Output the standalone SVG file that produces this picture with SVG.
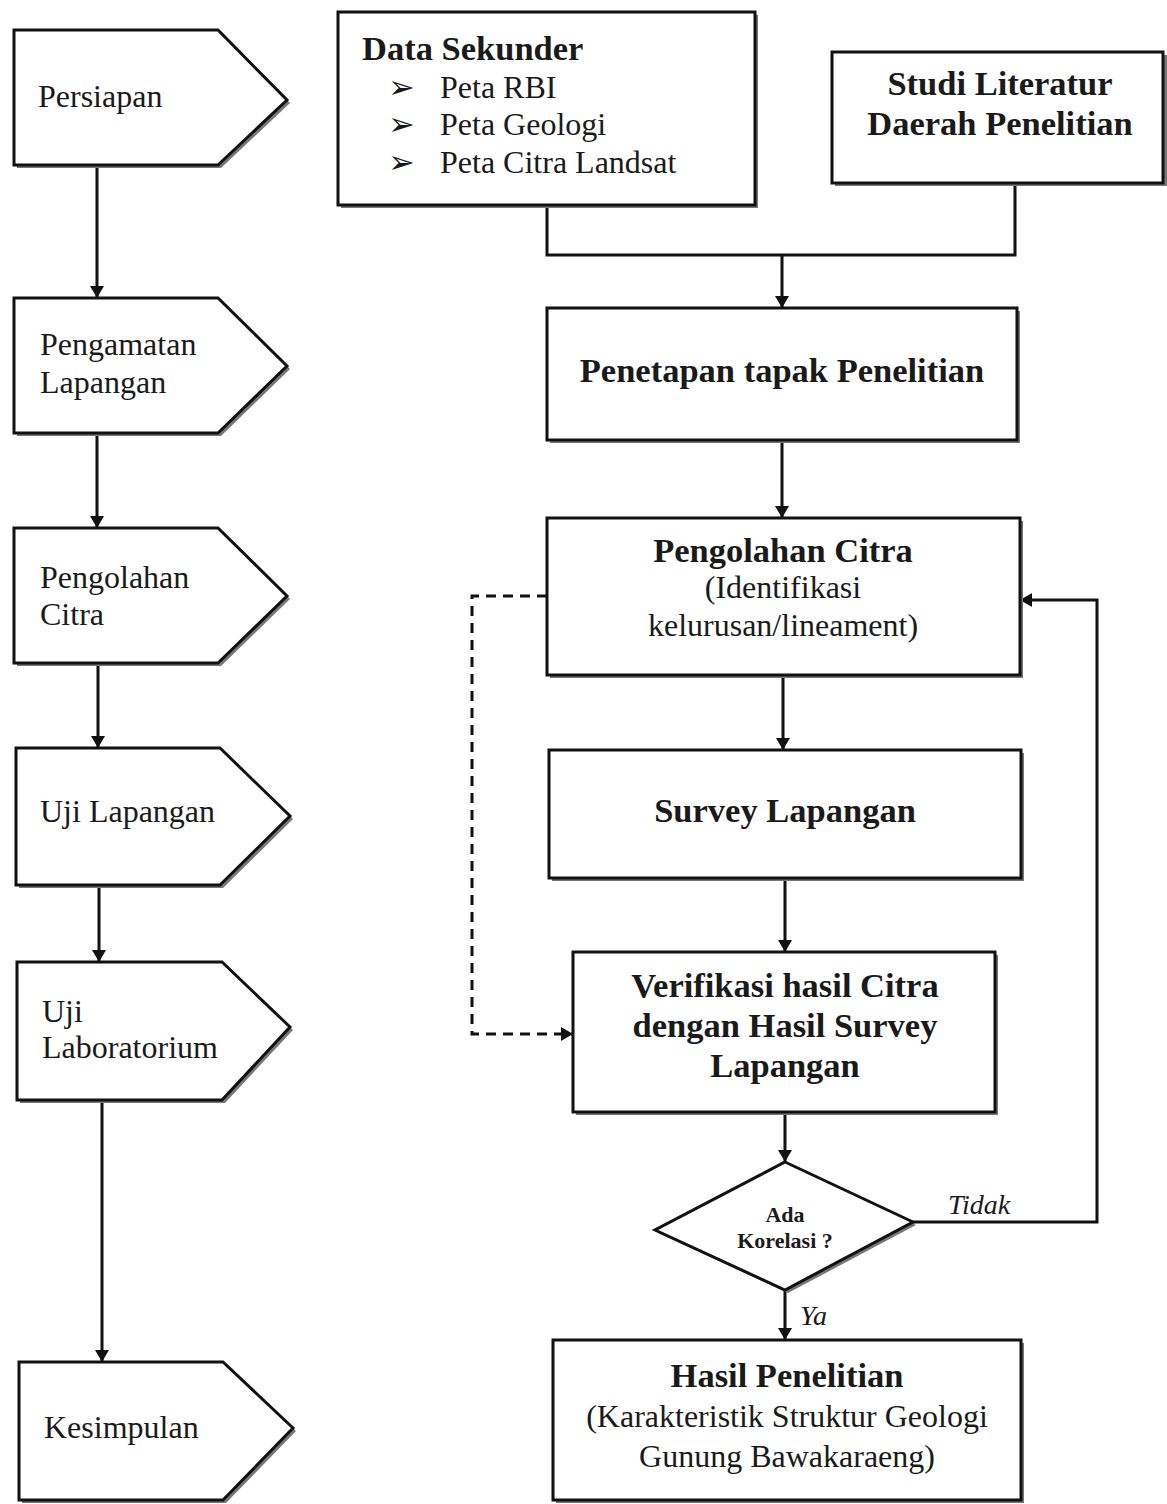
<svg xmlns="http://www.w3.org/2000/svg" width="1167" height="1504" viewBox="0 0 1167 1504">
<style>
.box{fill:#fff;stroke:#111;stroke-width:3}
.sh{fill:#777;stroke:none}
.t{font-family:"Liberation Serif","Times New Roman",serif;font-size:32px;fill:#1a1a1a}
.b{font-family:"Liberation Serif","Times New Roman",serif;font-size:34.5px;font-weight:bold;fill:#1a1a1a}
.m{text-anchor:middle}
.i{font-family:"Liberation Serif","Times New Roman",serif;font-size:28px;font-style:italic;fill:#1a1a1a}
.s{font-family:"Liberation Serif","Times New Roman",serif;font-size:22px;font-weight:bold;fill:#1a1a1a;text-anchor:middle}
.c{fill:none;stroke:#111;stroke-width:3}
.d{fill:none;stroke:#111;stroke-width:3;stroke-dasharray:10 7}
</style>
<defs>
<marker id="ah" viewBox="0 0 12 14" refX="12" refY="7" markerWidth="12" markerHeight="14" markerUnits="userSpaceOnUse" orient="auto">
<path d="M0,0 L12,7 L0,14 Z" fill="#111"/>
</marker>
</defs>
<rect width="1167" height="1504" fill="#fff"/>

<g id="connectors">
<path class="c" d="M97,165 V298" marker-end="url(#ah)"/>
<path class="c" d="M97,433 V528" marker-end="url(#ah)"/>
<path class="c" d="M98,663 V748" marker-end="url(#ah)"/>
<path class="c" d="M99,885 V962" marker-end="url(#ah)"/>
<path class="c" d="M102,1100 V1362" marker-end="url(#ah)"/>
<path class="c" d="M547,205 V255 H1015 V183"/>
<path class="c" d="M782,255 V308" marker-end="url(#ah)"/>
<path class="c" d="M782,440 V518" marker-end="url(#ah)"/>
<path class="c" d="M783,675 V750" marker-end="url(#ah)"/>
<path class="c" d="M785,878 V952" marker-end="url(#ah)"/>
<path class="c" d="M785,1112 V1162" marker-end="url(#ah)"/>
<path class="d" d="M547,596 H472 V1034 H573" marker-end="url(#ah)"/>
<path class="c" d="M913,1222 H1097 V600 H1020" marker-end="url(#ah)"/>
<path class="c" d="M785,1290 V1340" marker-end="url(#ah)"/>
<text class="i" x="948" y="1214">Tidak</text>
<text class="i" x="800" y="1325">Ya</text>
</g>

<g id="persiapan">
<path class="sh" d="M17,33 H221 L290,103 L221,168 H17 Z"/>
<path class="box" d="M14,30 H218 L287,100 L218,165 H14 Z"/>
<text class="t" x="38" y="107">Persiapan</text>
</g>
<g id="pengamatan">
<path class="sh" d="M17,301 H221 L290,369 L221,436 H17 Z"/>
<path class="box" d="M14,298 H218 L287,366 L218,433 H14 Z"/>
<text class="t" x="40" y="355">Pengamatan</text>
<text class="t" x="40" y="393">Lapangan</text>
</g>
<g id="pengolahan-l">
<path class="sh" d="M17,531 H221 L290,599 L221,666 H17 Z"/>
<path class="box" d="M14,528 H218 L287,596 L218,663 H14 Z"/>
<text class="t" x="40" y="588">Pengolahan</text>
<text class="t" x="40" y="625">Citra</text>
</g>
<g id="uji-lapangan">
<path class="sh" d="M19,751 H223 L293,819 L223,888 H19 Z"/>
<path class="box" d="M16,748 H220 L290,816 L220,885 H16 Z"/>
<text class="t" x="40" y="822">Uji Lapangan</text>
</g>
<g id="uji-lab">
<path class="sh" d="M20,965 H225 L293,1030 L225,1103 H20 Z"/>
<path class="box" d="M17,962 H222 L290,1027 L222,1100 H17 Z"/>
<text class="t" x="42" y="1022">Uji</text>
<text class="t" x="42" y="1058">Laboratorium</text>
</g>
<g id="kesimpulan">
<path class="sh" d="M22,1365 H226 L296,1431 L226,1503 H22 Z"/>
<path class="box" d="M19,1362 H223 L293,1428 L223,1500 H19 Z"/>
<text class="t" x="44" y="1438">Kesimpulan</text>
</g>

<g id="data-sekunder">
<rect class="sh" x="341" y="15" width="417" height="193"/>
<rect class="box" x="338" y="12" width="417" height="193"/>
<text class="b" x="362" y="60">Data Sekunder</text>
<text class="t" x="388" y="98">➢</text>
<text class="t" x="440" y="98">Peta RBI</text>
<text class="t" x="388" y="135">➢</text>
<text class="t" x="440" y="135">Peta Geologi</text>
<text class="t" x="388" y="173">➢</text>
<text class="t" x="440" y="173">Peta Citra Landsat</text>
</g>
<g id="studi-literatur">
<rect class="sh" x="835" y="55" width="333" height="131"/>
<rect class="box" x="832" y="52" width="331" height="131"/>
<text class="b m" x="1000" y="95">Studi Literatur</text>
<text class="b m" x="1000" y="135">Daerah Penelitian</text>
</g>
<g id="penetapan">
<rect class="sh" x="550" y="311" width="470" height="132"/>
<rect class="box" x="547" y="308" width="470" height="132"/>
<text class="b m" x="782" y="382">Penetapan tapak Penelitian</text>
</g>
<g id="pengolahan-citra">
<rect class="sh" x="550" y="521" width="473" height="157"/>
<rect class="box" x="547" y="518" width="473" height="157"/>
<text class="b m" x="783" y="562">Pengolahan Citra</text>
<text class="t m" x="783" y="598">(Identifikasi</text>
<text class="t m" x="783" y="636">kelurusan/lineament)</text>
</g>
<g id="survey">
<rect class="sh" x="552" y="753" width="472" height="128"/>
<rect class="box" x="549" y="750" width="472" height="128"/>
<text class="b m" x="785" y="822">Survey Lapangan</text>
</g>
<g id="verifikasi">
<rect class="sh" x="576" y="955" width="422" height="160"/>
<rect class="box" x="573" y="952" width="422" height="160"/>
<text class="b m" x="785" y="997">Verifikasi hasil Citra</text>
<text class="b m" x="785" y="1037">dengan Hasil Survey</text>
<text class="b m" x="785" y="1077">Lapangan</text>
</g>
<g id="korelasi">
<path class="sh" d="M788,1165 L916,1225 L788,1293 L658,1233 Z"/>
<path class="box" d="M785,1162 L913,1222 L785,1290 L655,1230 Z"/>
<text class="s" x="785" y="1222">Ada</text>
<text class="s" x="785" y="1248">Korelasi ?</text>
</g>
<g id="hasil">
<rect class="sh" x="556" y="1343" width="468" height="160"/>
<rect class="box" x="553" y="1340" width="468" height="160"/>
<text class="b m" x="787" y="1387">Hasil Penelitian</text>
<text class="t m" x="787" y="1427">(Karakteristik Struktur Geologi</text>
<text class="t m" x="787" y="1467">Gunung Bawakaraeng)</text>
</g>
</svg>
